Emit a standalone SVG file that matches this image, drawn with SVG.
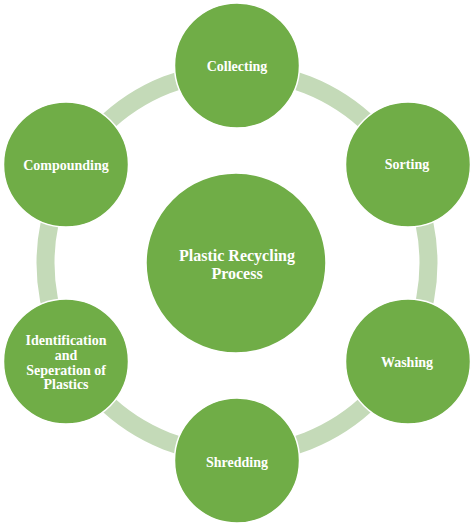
<svg xmlns="http://www.w3.org/2000/svg" width="474" height="527" viewBox="0 0 474 527">
<style>
.node{fill:#70ad47;stroke:#ffffff;stroke-width:1.5}
.lbl{font-family:"Liberation Serif","Times New Roman",serif;font-weight:bold;font-size:14px;fill:#ffffff;text-anchor:middle}
.big{font-size:16px}
.ring{fill:none;stroke:#c4dab8;stroke-width:18}
</style>
<rect width="474" height="527" fill="#ffffff"/>
<g id="connectors">
<circle class="ring" cx="237" cy="263" r="191.5"/>
</g>
<g id="center">
<circle class="node" cx="236" cy="263" r="90"/>
<text class="lbl big" x="237" y="260.5">Plastic Recycling</text>
<text class="lbl big" x="237" y="278.5">Process</text>
</g>
<g id="collecting">
<circle class="node" cx="237" cy="65.5" r="62.5"/>
<text class="lbl" x="237" y="71">Collecting</text>
</g>
<g id="sorting">
<circle class="node" cx="408" cy="164.5" r="62.5"/>
<text class="lbl" x="407" y="169">Sorting</text>
</g>
<g id="washing">
<circle class="node" cx="408" cy="361.5" r="62.5"/>
<text class="lbl" x="407" y="367">Washing</text>
</g>
<g id="shredding">
<circle class="node" cx="237" cy="460.5" r="62.5"/>
<text class="lbl" x="237" y="467">Shredding</text>
</g>
<g id="identification">
<circle class="node" cx="66" cy="361.5" r="62.5"/>
<text class="lbl" x="66" y="345">Identification</text>
<text class="lbl" x="66" y="360">and</text>
<text class="lbl" x="66" y="374.5">Seperation of</text>
<text class="lbl" x="66" y="389">Plastics</text>
</g>
<g id="compounding">
<circle class="node" cx="66" cy="164.5" r="62.5"/>
<text class="lbl" x="66" y="170">Compounding</text>
</g>
</svg>
